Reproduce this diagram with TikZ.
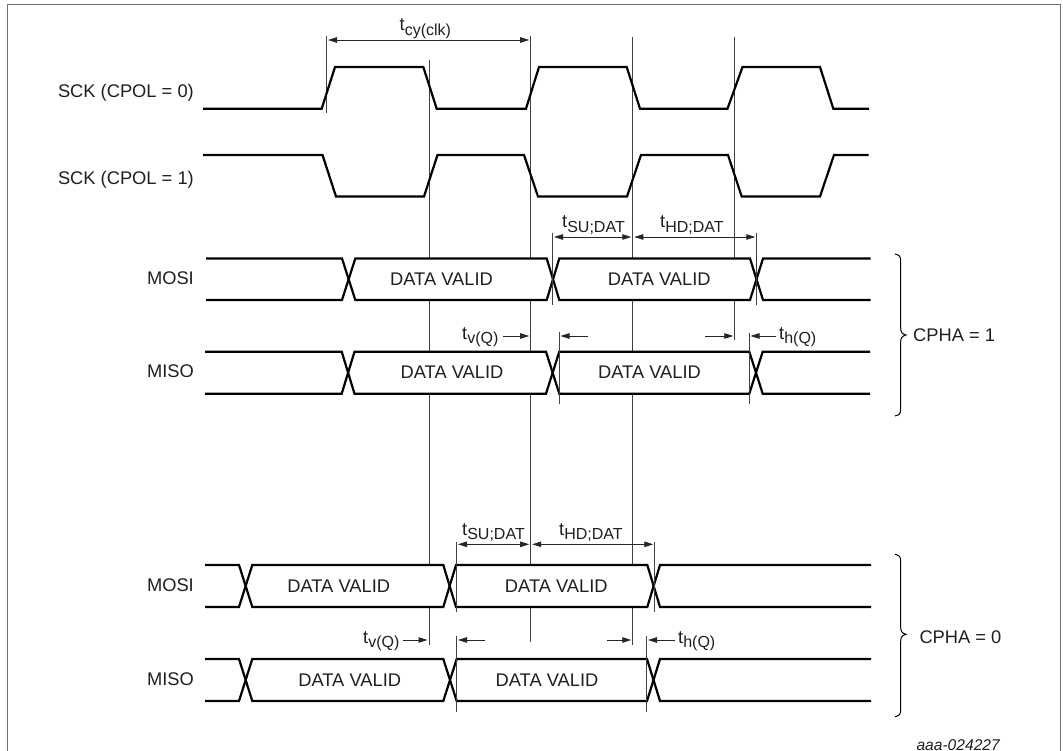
\documentclass[tikz,border=0pt]{standalone}
\usepackage{fontspec}
\setmainfont{Liberation Sans}
\usetikzlibrary{arrows.meta}
\tikzset{
  x=1pt,y=-1pt,
  wave/.style={line width=2.2pt,black,line join=miter},
  guide/.style={line width=0.8pt,draw=black!75},
  dim/.style={line width=0.8pt,draw=black!85,-{Triangle[length=9pt,width=5.5pt]}},
  dimb/.style={line width=0.8pt,draw=black!85,{Triangle[length=9pt,width=5.5pt]}-{Triangle[length=9pt,width=5.5pt]}},
  lbl/.style={inner sep=0pt,font=\fontsize{18.3}{21}\selectfont,text=black!88},
  sym/.style={inner sep=0pt,font=\fontsize{18.3}{21}\selectfont,text=black!88,anchor=base west},
  bracefig/.style={line width=1pt,draw=black}
}
\newcommand{\tsub}[1]{t\raisebox{-0.25em}{\fontsize{16}{16}\selectfont #1}}
\begin{document}
\begin{tikzpicture}
\useasboundingbox (0,0) rectangle (1063,751);
\fill[white] (0,0) rectangle (1063,751);
\draw[line width=0.9pt,black!55] (7,751) -- (7,4.5) -- (1060.7,4.5) -- (1060.7,751);

% guides
\draw[guide] (326.5,36) -- (326.5,113);
\draw[guide] (429,60) -- (429,645);
\draw[guide] (530.7,36) -- (530.7,642);
\draw[guide] (632.8,37) -- (632.8,645);
\draw[guide] (734.7,37) -- (734.7,340);

% clocks
\draw[wave] (203,108.7) -- (321.7,108.7) -- (335,67) -- (423.3,67) -- (436.7,108.7) -- (526,108.7) -- (539,67) -- (626.7,67) -- (640,108.7) -- (727.5,108.7) -- (742.5,67) -- (820,67) -- (833.3,108.7) -- (869,108.7);
\draw[wave] (203,155) -- (322.5,155) -- (336,196.5) -- (424,196.5) -- (437.5,155) -- (524,155) -- (538,196.5) -- (627,196.5) -- (641,155) -- (728,155) -- (741.7,196.5) -- (820,196.5) -- (834,155) -- (868.5,155);

% CPHA=1 MOSI
\fill[white] (342,258.5) rectangle (763,300);
\draw[wave] (206,258.5) -- (342,258.5) -- (355.3,300) -- (546.7,300) -- (559.3,258.5) -- (750,258.5) -- (763,300) -- (870.7,300);
\draw[wave] (206,300) -- (342,300) -- (355.3,258.5) -- (546.7,258.5) -- (559.3,300) -- (750,300) -- (763,258.5) -- (870.7,258.5);
% CPHA=1 MISO
\fill[white] (341.7,351.7) rectangle (762.7,393.7);
\draw[wave] (205,351.7) -- (341.7,351.7) -- (354.5,393.7) -- (546,393.7) -- (559.3,351.7) -- (749.3,351.7) -- (762.7,393.7) -- (870,393.7);
\draw[wave] (205,393.7) -- (341.7,393.7) -- (354.5,351.7) -- (546,351.7) -- (559.3,393.7) -- (749.3,393.7) -- (762.7,351.7) -- (870,351.7);
% CPHA=0 MOSI
\fill[white] (239,565) rectangle (660,607);
\draw[wave] (205,565) -- (239,565) -- (252.3,607) -- (443.3,607) -- (456,565) -- (647.3,565) -- (660,607) -- (871,607);
\draw[wave] (205,607) -- (239,607) -- (252.3,565) -- (443.3,565) -- (456,607) -- (647.3,607) -- (660,565) -- (871,565);
% CPHA=0 MISO
\fill[white] (239,659) rectangle (660,701);
\draw[wave] (205,659) -- (239,659) -- (252.3,701) -- (443.3,701) -- (456.7,659) -- (647,659) -- (660,701) -- (871,701);
\draw[wave] (205,701) -- (239,701) -- (252.3,659) -- (443.3,659) -- (456.7,701) -- (647,701) -- (660,659) -- (871,659);

% extra guides
\draw[guide] (552.7,233) -- (552.7,305);
\draw[guide] (756.7,233) -- (756.7,305);
\draw[guide] (559,332) -- (559,404);
\draw[guide] (749,333) -- (749,404);
\draw[guide] (456,541.7) -- (456,611.7);
\draw[guide] (654.7,541.7) -- (654.7,611.7);
\draw[guide] (456.7,636) -- (456.7,711.7);
\draw[guide] (646.7,636) -- (646.7,711.7);

% dimensions
\draw[dimb] (328,40) -- (529.2,40);
\draw[dimb] (554,237) -- (631.3,237);
\draw[dimb] (634.3,237) -- (755.3,237);
\draw[dim] (503,336) -- (529.2,336);
\draw[dim] (588,336) -- (560.5,336);
\draw[dim] (705,336) -- (733.3,336);
\draw[dim] (776,336) -- (750.5,336);
\draw[dimb] (458,544.3) -- (529.2,544.3);
\draw[dimb] (532.2,544.3) -- (653.3,544.3);
\draw[dim] (403,640) -- (427.5,640);
\draw[dim] (485,640) -- (458,640);
\draw[dim] (607,640) -- (631.3,640);
\draw[dim] (675,640) -- (648,640);

% labels
\node[lbl,anchor=east] (sck0) at (194,93) {SCK (CPOL = 0)};
\node[lbl,anchor=east] (sck1) at (194,180) {SCK (CPOL = 1)};
\node[lbl,anchor=east] (mosia) at (194,278.5) {MOSI};
\node[lbl,anchor=east] (misoa) at (194,371.7) {MISO};
\node[lbl,anchor=east] (mosib) at (194,585) {MOSI};
\node[lbl,anchor=east] (misob) at (194,679) {MISO};

\node[lbl] (dv1) at (441.5,279.5) {DATA VALID};
\node[lbl] (dv2) at (659.3,279.5) {DATA VALID};
\node[lbl] (dv3) at (452,372.5) {DATA VALID};
\node[lbl] (dv4) at (649.5,372.5) {DATA VALID};
\node[lbl] (dv5) at (338.7,586) {DATA VALID};
\node[lbl] (dv6) at (556.3,586) {DATA VALID};
\node[lbl] (dv7) at (349.7,680) {DATA VALID};
\node[lbl] (dv8) at (547,680) {DATA VALID};

\node[sym] (tcy) at (399.5,31) {\tsub{cy(clk)}};
\node[sym] (su1) at (562,228) {\tsub{SU;DAT}};
\node[sym] (hd1) at (660,228) {\tsub{HD;DAT}};
\node[sym] (v1) at (462,339) {\tsub{v(Q)}};
\node[sym] (h1) at (779,339) {\tsub{h(Q)}};
\node[sym] (su2) at (462,535) {\tsub{SU;DAT}};
\node[sym] (hd2) at (559,535) {\tsub{HD;DAT}};
\node[sym] (v2) at (363,643) {\tsub{v(Q)}};
\node[sym] (h2) at (678,643) {\tsub{h(Q)}};

% braces
\draw[bracefig] (895,254) .. controls (899,255) and (900.7,256) .. (900.7,261) -- (900.7,328) .. controls (900.7,332) and (902,334) .. (906,335) .. controls (902,336) and (900.7,338) .. (900.7,342) -- (900.7,409) .. controls (900.7,414) and (899,415) .. (895,416);
\draw[bracefig] (895,554.3) .. controls (899,555.3) and (900.7,556.3) .. (900.7,561.3) -- (900.7,627.3) .. controls (900.7,631.3) and (902,633.3) .. (906,634.3) .. controls (902,635.3) and (900.7,637.3) .. (900.7,641.3) -- (900.7,709.7) .. controls (900.7,714.7) and (899,715.7) .. (895,716.7);
\node[lbl,anchor=west] (c1) at (913,335.5) {CPHA = 1};
\node[lbl,anchor=west] (c0) at (919.3,637.5) {CPHA = 0};
\node[inner sep=0pt,anchor=base east,text=black!88,font=\itshape\fontsize{15.6}{17}\selectfont] (code) at (1000,750.3) {aaa-024227};
\end{tikzpicture}
\end{document}
